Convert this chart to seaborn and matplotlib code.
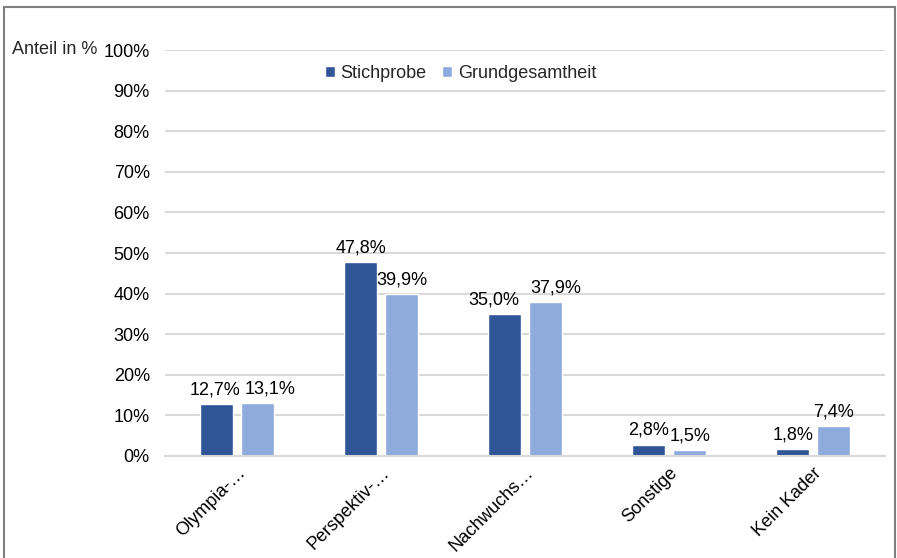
import matplotlib
matplotlib.use('Agg')

import pandas as pd
import matplotlib.pyplot as plt
import seaborn as sns
from matplotlib.patches import Rectangle

# --- data ---
categories = ['Olympia-…', 'Perspektiv-…', 'Nachwuchs…', 'Sonstige', 'Kein Kader']
stichprobe = [12.7, 47.8, 35.0, 2.8, 1.8]
grundgesamtheit = [13.1, 39.9, 37.9, 1.5, 7.4]
series_names = ['Stichprobe', 'Grundgesamtheit']
yticks = [0, 10, 20, 30, 40, 50, 60, 70, 80, 90, 100]

df = pd.DataFrame({
    'Kategorie': categories * 2,
    'Serie': [series_names[0]] * len(categories) + [series_names[1]] * len(categories),
    'Anteil': stichprobe + grundgesamtheit,
})

sns.set_theme(style='white')
plt.rcParams['font.family'] = ['Liberation Sans', 'DejaVu Sans']
FS = 13

fig = plt.figure(figsize=(8.97, 5.58), dpi=100)
ax = fig.add_axes([0.184, 0.183, 0.803, 0.727])

sns.barplot(data=df, x='Kategorie', y='Anteil', hue='Serie',
            palette=['#2F5597', '#8FAADC'], width=0.57, gap=0.2,
            saturation=1, ax=ax, legend=True)

# data labels with German decimal comma; nudge labels sideways where
# neighbouring labels would collide (like Excel does)
label_shift = {0: (-1, 9), 2: (-8, 7)}  # category index -> (dark, light) in points
for h, cont in enumerate(ax.containers):
    labels = [f'{v:.1f}%'.replace('.', ',') for v in cont.datavalues]
    texts = ax.bar_label(cont, labels=labels, padding=4, fontsize=FS, color='#000000')
    for i, t in enumerate(texts):
        if i in label_shift:
            t.xyann = (label_shift[i][h], 4)

ax.set_ylim(0, 100)
ax.set_yticks(yticks)
ax.set_yticklabels([f'{t}%' for t in yticks])
ax.set_xlim(-0.5, len(categories) - 0.5)
ax.yaxis.grid(True, color='#d9d9d9', linewidth=1.5)
ax.set_axisbelow(True)
for s in ['left', 'right', 'top']:
    ax.spines[s].set_visible(False)
ax.spines['bottom'].set_color('#d9d9d9')
ax.spines['bottom'].set_linewidth(1.5)
ax.tick_params(axis='both', length=0, labelsize=FS, colors='#000000')
ax.tick_params(axis='y', pad=11)
ax.tick_params(axis='x', pad=6)
ax.set_xlabel('')
ax.set_ylabel('')
plt.setp(ax.get_xticklabels(), rotation=45, ha='right', rotation_mode='anchor')

ax.legend(loc='center', bbox_to_anchor=(0.41, 0.943), ncol=2, frameon=False,
          fontsize=FS, handlelength=0.55, handleheight=0.55, handletextpad=0.3,
          columnspacing=0.9)

fig.text(12 / 897, 1 - 50 / 558, 'Anteil in %', fontsize=FS, va='center', ha='left')

# outer frame
fig.patches.append(Rectangle((4 / 897, -0.05), 891 / 897, 1.05 - 7 / 558,
                             transform=fig.transFigure, fill=False,
                             edgecolor='#7f7f7f', linewidth=1.5))

fig.savefig('out.png', dpi=100, facecolor='white')
